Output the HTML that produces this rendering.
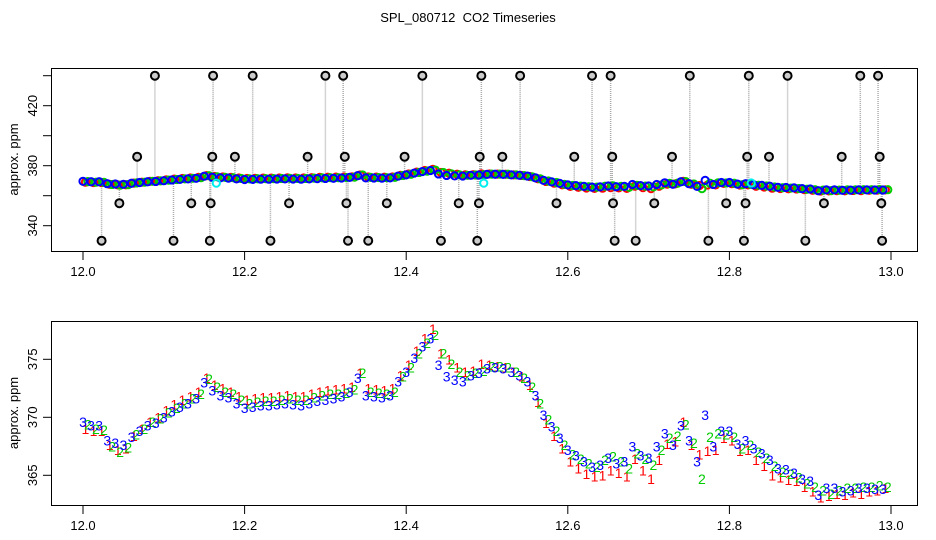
<!DOCTYPE html>
<html><head><meta charset="utf-8"><style>
body{margin:0;background:#fff;}
svg{display:block;font-family:"Liberation Sans",sans-serif;}
</style></head><body>
<svg id="chart" width="936" height="540" viewBox="0 0 936 540">
<rect width="936" height="540" fill="#fff"/>
<text x="468" y="22" font-size="13" text-anchor="middle">SPL_080712&#160; CO2 Timeseries</text>
<g id="top"></g>
<g id="bot"></g>
</svg>
<script>
const startTime = 12.0;
const stepTime = 0.01;
const series3 = [369.6,369.3,369.3,368.0,367.8,367.6,368.3,368.8,369.3,369.5,
370.0,370.5,370.9,371.2,371.6,373.0,372.3,371.9,371.7,371.2,
370.8,370.9,371.0,371.0,371.1,371.2,371.1,371.0,371.2,371.4,
371.5,371.6,371.8,372.2,373.4,371.9,371.8,371.7,371.9,373.1,
373.9,375.1,376.1,376.8,374.5,373.5,373.2,373.1,373.6,373.8,
374.2,374.3,374.2,373.9,373.6,373.1,371.9,370.2,369.2,368.2,
367.2,366.7,366.2,365.7,365.9,366.5,366.0,366.2,367.5,366.7,
366.5,367.5,368.6,367.6,369.3,368.0,366.2,370.2,367.5,368.8,
368.8,367.7,368.0,367.3,366.9,366.3,365.6,365.5,365.2,364.7,
364.5,363.3,363.9,363.9,363.6,363.7,363.9,363.9,363.8,363.8];
const series1 = [369.0,368.8,368.8,367.6,367.2,367.3,368.4,369.0,369.6,370.0,
370.6,371.1,371.5,371.8,372.2,373.4,372.8,372.5,372.2,371.8,
371.5,371.6,371.7,371.7,371.8,371.9,371.8,371.8,372.0,372.2,
372.3,372.4,372.5,372.6,373.8,372.5,372.4,372.3,372.5,373.6,
374.5,375.7,376.8,377.6,375.5,375.0,374.3,373.9,374.0,374.6,
374.5,374.4,374.3,373.9,373.5,372.8,371.3,369.5,368.4,367.3,
366.2,365.6,365.1,364.9,365.0,365.4,365.2,364.9,366.4,365.4,
364.7,366.3,367.7,367.9,369.6,367.6,366.8,367.1,367.2,368.2,
368.0,367.1,367.2,366.3,365.8,365.0,364.8,364.6,364.5,364.0,
363.6,363.1,363.2,363.4,363.3,363.5,363.4,363.6,363.7,363.9];
const series2 = [369.4,369.0,368.9,367.5,367.0,367.4,368.5,369.0,369.6,369.9,
370.4,370.8,371.2,371.6,372.0,373.3,372.6,372.2,372.0,371.5,
371.2,371.3,371.4,371.4,371.5,371.6,371.5,371.5,371.7,371.9,
372.0,372.0,372.1,372.4,373.8,372.2,372.1,372.0,372.2,373.5,
374.3,375.5,376.4,377.1,375.5,374.6,373.9,373.6,373.8,374.0,
374.4,374.4,374.3,373.9,373.4,372.6,371.2,369.8,368.8,367.6,
366.8,366.4,366.0,365.7,366.3,366.6,366.2,365.6,366.9,366.4,
365.9,367.2,368.2,368.4,369.4,367.8,364.7,368.3,368.6,368.5,
368.3,367.3,367.6,367.0,366.5,365.8,365.3,365.1,364.8,364.3,
364.0,363.7,363.4,363.7,363.9,363.9,364.0,364.0,364.1,364.0];
const outlierTimes = [12.089,12.161,12.210,12.300,12.322,12.420,12.493,12.541,12.630,12.653,12.751,12.824,12.872,12.962,12.984,
12.067,12.160,12.188,12.278,12.324,12.398,12.491,12.519,12.608,12.655,12.729,12.822,12.849,12.939,12.986,
12.045,12.134,12.158,12.255,12.326,12.376,12.465,12.490,12.586,12.656,12.707,12.796,12.820,12.917,12.988,
12.023,12.112,12.157,12.232,12.328,12.353,12.443,12.488,12.658,12.684,12.774,12.818,12.894,12.989];
const outlierValues = [440,440,440,440,440,440,440,440,440,440,440,440,440,440,440,
386,386,386,386,386,386,386,386,386,386,386,386,386,386,386,
355,355,355,355,355,355,355,355,355,355,355,355,355,355,355,
330,330,330,330,330,330,330,330,330,330,330,330,330,330];
const cyanTimes = [12.165,12.496,12.827];
const cyanValues = [368.4,368.4,368.5];
const xTicks = [12.0,12.2,12.4,12.6,12.8,13.0];
const xTickLabels = ["12.0","12.2","12.4","12.6","12.8","13.0"];
const topYTicks = [340,360,380,400,420,440];
const topYLabels = ["340","","380","","420",""];
const botYTicks = [365,370,375];
const botYLabels = ["365","370","375"];

const NS="http://www.w3.org/2000/svg";
function mk(parent,tag,attrs){const e=document.createElementNS(NS,tag);for(const k in attrs)e.setAttribute(k,attrs[k]);parent.appendChild(e);return e;}
const xs = t => 83 + (t-12.0)*808;
const topY = v => 165.7 - (v-380)*1.5;
const botY = v => 417.3 - (v-370)*11.6;
const timeOf = (i,off) => startTime + i*stepTime + off;

function frame(g,top,bottom,yfun,yt,yl,name){
  const r=mk(g,'rect',{x:51.5,y:top+0.5,width:866,height:bottom-top,fill:'none',stroke:'#000','stroke-width':1});
  
  
  xTicks.forEach((t,i)=>{
    mk(g,'line',{x1:xs(t),x2:xs(t),y1:bottom,y2:bottom+9,stroke:'#000'});
    const tx=mk(g,'text',{x:xs(t),y:bottom+25,'font-size':13,'text-anchor':'middle'});
    tx.textContent=xTickLabels[i];
    
    
  });
  yt.forEach((v,i)=>{
    mk(g,'line',{x1:43,x2:51,y1:yfun(v),y2:yfun(v),stroke:'#000'});
    if(yl[i]){
      const tx=mk(g,'text',{x:0,y:0,'font-size':13,'text-anchor':'middle',transform:`translate(37,${yfun(v)}) rotate(-90)`});
      tx.textContent=yl[i];
      
      
    }
  });
  const yl2=mk(g,'text',{x:0,y:0,'font-size':13,'text-anchor':'middle',transform:`translate(18,${(top+bottom)/2}) rotate(-90)`});
  yl2.textContent='approx. ppm';
  
  
}

// top panel
const gt=document.getElementById('top');
frame(gt,68,251,topY,topYTicks,topYLabels,'top');
outlierTimes.forEach((t,i)=>{
  const idx=Math.min(series3.length-1,Math.max(0,Math.round((t-startTime)/stepTime)));
  const l=mk(gt,'line',{x1:xs(t),x2:xs(t),y1:topY(series3[idx]),y2:topY(outlierValues[i]),stroke:'#aaa','stroke-width':1.5,'stroke-dasharray':'1,1'});
  
  
});
[[series1,'#f00',0.003],[series2,'#0c0',0.006],[series3,'#00f',0]].forEach(([s,c,off])=>{
  s.forEach((v,i)=>{
    const ci=mk(gt,'circle',{cx:xs(timeOf(i,off)),cy:topY(v),r:3.6,fill:'none',stroke:c,'stroke-width':2});
    
    
  });
});
cyanTimes.forEach((t,i)=>{
  const ci=mk(gt,'circle',{cx:xs(t),cy:topY(cyanValues[i]),r:3.6,fill:'none',stroke:'#0ee','stroke-width':2});
  
  
});
outlierTimes.forEach((t,i)=>{
  const ci=mk(gt,'circle',{cx:xs(t),cy:topY(outlierValues[i]),r:4,fill:'#ccc',stroke:'#000','stroke-width':2});
  
  
});

// bottom panel
const gb=document.getElementById('bot');
frame(gb,321,505,botY,botYTicks,botYLabels,'bottom');
[[series1,'#f00',0.003,'1'],[series2,'#0c0',0.006,'2'],[series3,'#00f',0,'3']].forEach(([s,c,off,lab])=>{
  s.forEach((v,i)=>{
    const tx=mk(gb,'text',{x:xs(timeOf(i,off)),y:botY(v)+5,'font-size':14,'text-anchor':'middle',fill:c});
    tx.textContent=lab;
    
    
  });
});
</script>
</body></html>
